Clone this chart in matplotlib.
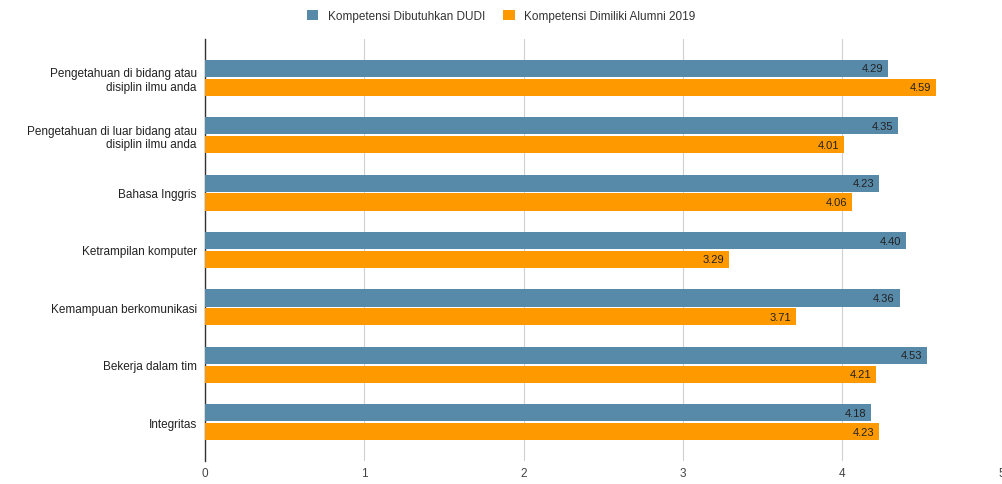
import numpy as np
import matplotlib

matplotlib.use('Agg')
import matplotlib.pyplot as plt

plt.rcParams['font.family'] = ['Liberation Sans', 'DejaVu Sans']

categories = [
    'Pengetahuan di bidang atau\ndisiplin ilmu anda',
    'Pengetahuan di luar bidang atau\ndisiplin ilmu anda',
    'Bahasa Inggris',
    'Ketrampilan komputer',
    'Kemampuan berkomunikasi',
    'Bekerja dalam tim',
    'Integritas',
]
dudi = [4.29, 4.35, 4.23, 4.40, 4.36, 4.53, 4.18]
alumni = [4.59, 4.01, 4.06, 3.29, 3.71, 4.21, 4.23]
series_names = ['Kompetensi Dibutuhkan DUDI', 'Kompetensi Dimiliki Alumni 2019']

blue = '#5789a8'
orange = '#ff9900'

fig = plt.figure(figsize=(10.02, 4.85), dpi=100)
ax = fig.add_axes([0.2046, 0.047, 0.7950, 0.871])

y = np.arange(len(categories))
h = 0.3
b1 = ax.barh(y - 0.165, dudi, height=h, color=blue, label=series_names[0], zorder=3)
b2 = ax.barh(y + 0.165, alumni, height=h, color=orange, label=series_names[1], zorder=3)

for bars, vals in [(b1, dudi), (b2, alumni)]:
    for bar, v in zip(bars, vals):
        ax.text(v - 0.03, bar.get_y() + bar.get_height() / 2, '%.2f' % v,
                ha='right', va='center', fontsize=8, color='#222222', zorder=4)

ax.set_xlim(0, 5)
ax.set_ylim(len(categories) - 0.32, -0.68)
ax.set_yticks(y)
ax.set_yticklabels(categories, fontsize=8.5, color='#222222', ha='right')
ax.set_xticks(range(6))
ax.tick_params(axis='x', labelsize=8.5, colors='#444444', length=0, pad=4)
ax.tick_params(axis='y', length=0, pad=6)
ax.grid(axis='x', color='#d0d0d0', linewidth=0.8, zorder=0)
for s in ['top', 'right', 'bottom']:
    ax.spines[s].set_visible(False)
ax.spines['left'].set_color('#333333')
ax.spines['left'].set_linewidth(1)

fig.legend(loc='upper center', bbox_to_anchor=(0.5, 1.0), ncol=2, frameon=False,
           fontsize=8.5, handlelength=1.0, handleheight=1.0, columnspacing=1.5,
           handletextpad=0.8, labelcolor='#333333')

plt.savefig('out.png', dpi=100)
